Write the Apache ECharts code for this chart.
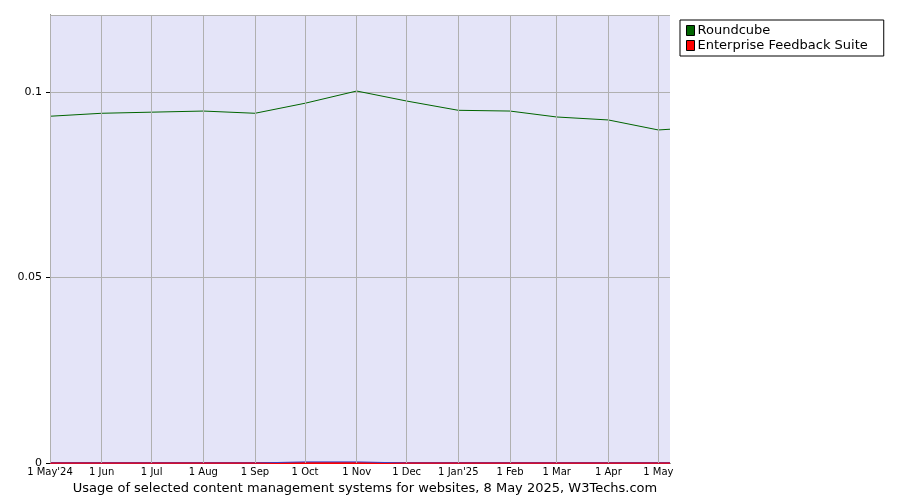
<!DOCTYPE html><html><head><meta charset="utf-8">
<script src="https://cdn.jsdelivr.net/npm/echarts@6/dist/echarts.min.js"></script>
<style>body{margin:0}#c{width:900px;height:500px}</style></head><body><div id="c"></div>
<script>
const days=[0,31,61,92,123,153,184,214,245,276,304,335,365,372];
const tickDays=[0,31,61,92,123,153,184,214,245,276,304,335,365];
const tickLabels=["1 May'24","1 Jun","1 Jul","1 Aug","1 Sep","1 Oct","1 Nov","1 Dec","1 Jan'25","1 Feb","1 Mar","1 Apr","1 May"];
const roundcube=[0.0935,0.0943,0.0946,0.0949,0.0943,0.0970,0.1003,0.0976,0.0951,0.0949,0.0933,0.0925,0.0898,0.0900];
const efs=[0,0,0,0,0,0,0,0,0,0,0,0,0,0];
const other=[0,0,0,0,0,0.0003,0.0003,0,0,0,0,0,0,0];
const pair=a=>days.map((d,i)=>[d,a[i]]);
const f='DejaVu Sans';
const chart=echarts.init(document.getElementById('c'));
chart.setOption({animation:false,
grid:{left:50,right:230,top:15,bottom:37,backgroundColor:'#e4e4f8',show:true,borderWidth:0},
title:{text:'Usage of selected content management systems for websites, 8 May 2025, W3Techs.com',left:360,textAlign:'center',bottom:0,textStyle:{fontFamily:f,fontSize:13,fontWeight:'normal',color:'#000'}},
legend:{orient:'vertical',left:680,top:20,itemWidth:8,itemHeight:10,itemGap:2,padding:[4,16,4,6],borderColor:'#000',borderWidth:1,
 textStyle:{fontFamily:f,fontSize:13,color:'#000',padding:[0,0,0,-2]},data:[{name:'Roundcube',icon:'rect',itemStyle:{color:'#006400',borderColor:'#000',borderWidth:1}},{name:'Enterprise Feedback Suite',icon:'rect',itemStyle:{color:'#ff0000',borderColor:'#000',borderWidth:1}}]},
xAxis:{type:'value',min:0,max:372,axisLabel:{show:false},axisTick:{show:false},splitLine:{show:false},axisLine:{lineStyle:{color:'#000'}}},
yAxis:{type:'value',min:0,max:0.1208,interval:0.05,axisLabel:{showMaxLabel:false,fontFamily:f,fontSize:11,color:'#000',formatter:v=>String(v)},axisLine:{show:true,lineStyle:{color:'#000'}},axisTick:{show:true,length:4,lineStyle:{color:'#000'}},splitLine:{lineStyle:{color:'#b0b0b0'}}},
series:[
{name:'Roundcube',type:'line',data:pair(roundcube),symbol:'none',lineStyle:{color:'#006400',width:1},itemStyle:{color:'#006400'},
 markLine:{silent:true,symbol:'none',lineStyle:{color:'#b0b0b0',type:'solid',width:1},
 label:{position:'start',fontFamily:f,fontSize:10,color:'#000',distance:4,formatter:p=>tickLabels[tickDays.indexOf(p.value)]},
 data:tickDays.map(d=>({xAxis:d}))}},
{name:'Enterprise Feedback Suite',type:'line',data:pair(efs),symbol:'none',lineStyle:{color:'#ff0000',width:2},itemStyle:{color:'#ff0000'}},
{name:'other',type:'line',data:pair(other),symbol:'none',lineStyle:{color:'#4040c0',width:1}}
]});
</script></body></html>
